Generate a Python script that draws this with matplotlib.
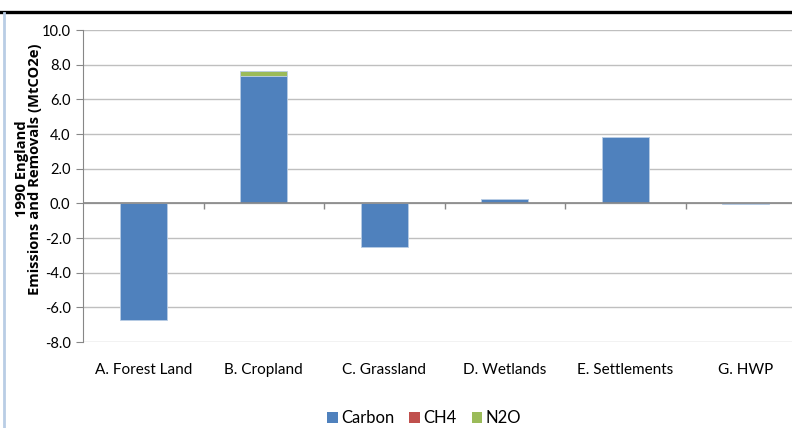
import matplotlib
matplotlib.use("Agg")
import matplotlib.pyplot as plt
import numpy as np
from matplotlib.lines import Line2D
from matplotlib.patches import Patch

categories = ["A. Forest Land", "B. Cropland", "C. Grassland", "D. Wetlands", "E. Settlements", "G. HWP"]
carbon = [-6.75, 7.32, -2.50, 0.25, 3.83, -0.05]
ch4 = [0.0, 0.0, 0.0, 0.0, 0.0, 0.0]
n2o = [0.0, 0.30, 0.0, 0.0, 0.02, 0.0]
series_names = ["Carbon", "CH4", "N2O"]
colors = ["#4F81BD", "#C0504D", "#9BBB59"]
yticks = [-8.0, -6.0, -4.0, -2.0, 0.0, 2.0, 4.0, 6.0, 8.0, 10.0]

plt.rcParams['font.family'] = ['Lato', 'DejaVu Sans']

fig = plt.figure(figsize=(7.92, 4.28), dpi=100)
W, H = 792, 428
ax = fig.add_axes([83 / W, 1 - 342 / H, (806 - 83) / W, (342 - 30) / H])

x = np.arange(len(categories))
pos_bottom = np.zeros(len(categories))
neg_bottom = np.zeros(len(categories))
for name, vals, col in zip(series_names, [carbon, ch4, n2o], colors):
    vals = np.array(vals)
    bottoms = np.where(vals >= 0, pos_bottom, neg_bottom)
    ax.bar(x, vals, width=0.39, bottom=bottoms, color=col, edgecolor="#B9CDE5", linewidth=0.6, zorder=3, label=name)
    pos_bottom += np.where(vals >= 0, vals, 0)
    neg_bottom += np.where(vals < 0, vals, 0)

ax.set_xlim(-0.5, len(categories) - 0.5)
ax.set_ylim(yticks[0], yticks[-1])
ax.set_yticks(yticks)
ax.set_yticklabels([f"{v:.1f}" for v in yticks], fontsize=10.5, color="#000000")
ax.yaxis.grid(True, color="#BFBFBF", linewidth=1.0, zorder=0)
ax.tick_params(axis='y', length=5, color="#878787", pad=4)

ax.set_xticks(x)
ax.set_xticklabels(categories, fontsize=11)
ax.tick_params(axis='x', length=0, pad=15)

for s in ["top", "right", "bottom"]:
    ax.spines[s].set_visible(False)
ax.spines["left"].set_color("#878787")

ax.axhline(0, color="#878787", linewidth=1.2, zorder=4)
bounds = np.arange(len(categories) + 1) - 0.5
ax.vlines(bounds[1:-1], -0.35, 0, color="#878787", linewidth=1.0, zorder=4)

ax.set_ylabel("1990 England\nEmissions and Removals (MtCO2e)", fontsize=10.6, fontweight="bold",
              family=["Open Sans", "DejaVu Sans"], linespacing=0.95)
ax.yaxis.set_label_coords(-41 / (806 - 83), 0.5 + (186 - 169) / 312)

handles = [Patch(facecolor=c, edgecolor="none") for c in colors]
fig.legend(handles, series_names, loc="center", bbox_to_anchor=(424 / W, 1 - 418 / H), ncol=3,
           frameon=False, fontsize=12, handlelength=0.65, handleheight=0.65, handletextpad=0.2, columnspacing=0.9)

fig.add_artist(Line2D([0, 1], [1 - 12 / H, 1 - 12 / H], color="black", linewidth=2.4, transform=fig.transFigure))
fig.add_artist(Line2D([3.5 / W, 3.5 / W], [0, 1 - 13 / H], color="#B9CDE5", linewidth=2.0, transform=fig.transFigure))

fig.savefig("out.png", dpi=100)
